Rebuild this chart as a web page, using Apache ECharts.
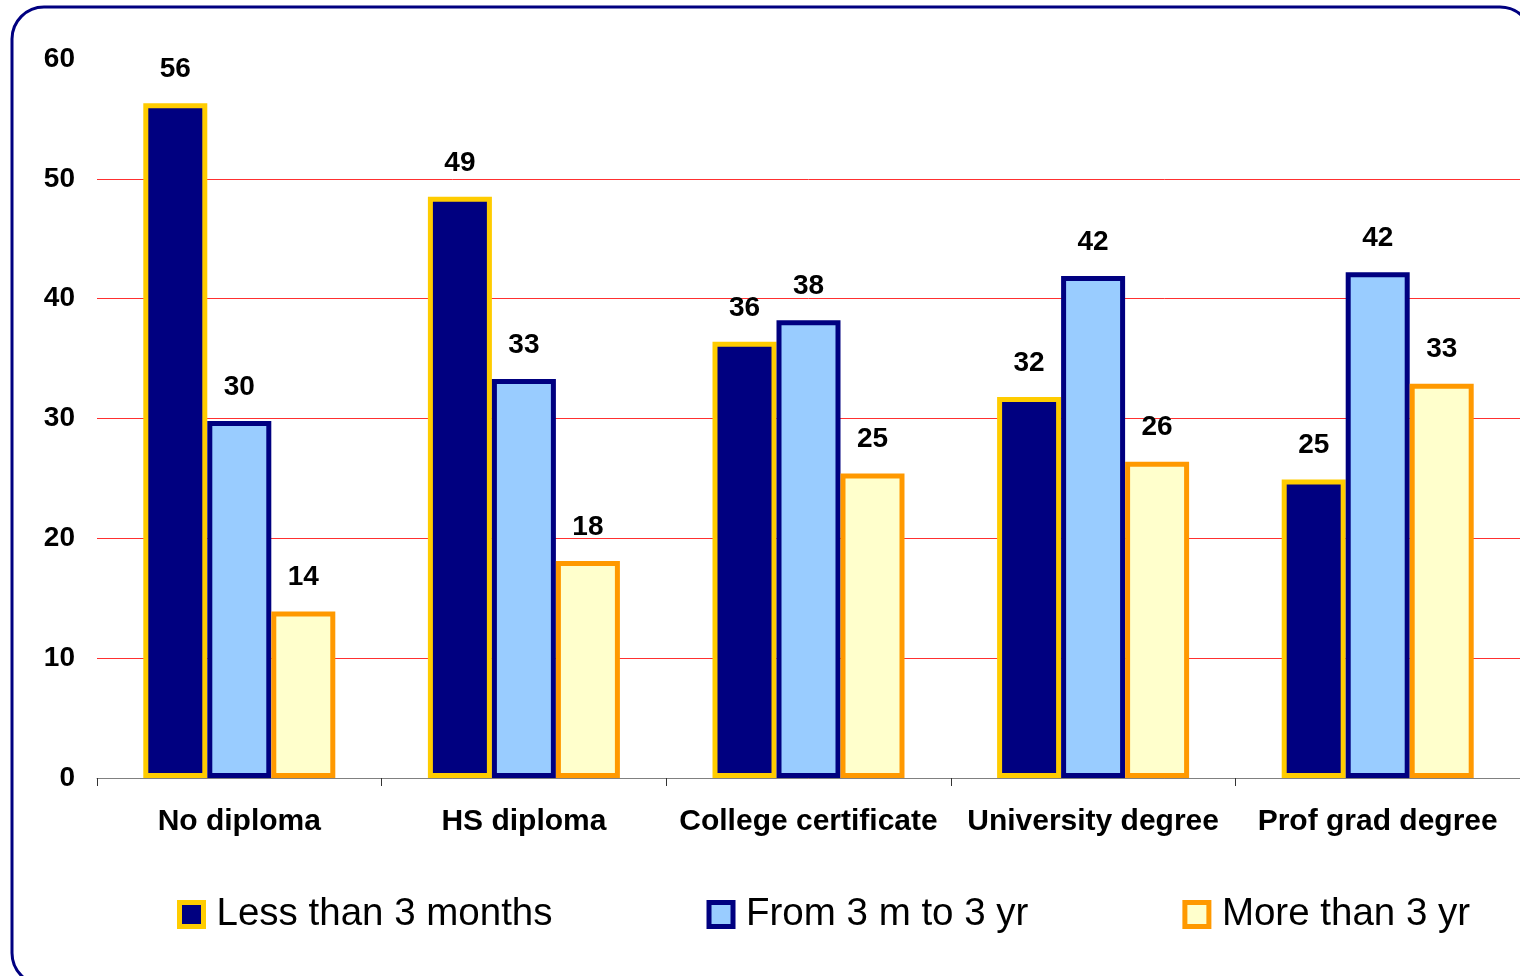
<!DOCTYPE html>
<html>
<head>
<meta charset="utf-8">
<script src="https://cdn.jsdelivr.net/npm/echarts@6/dist/echarts.min.js"></script>
<style>
html, body { margin: 0; padding: 0; background: #fff; }
#main { width: 1520px; height: 976px; }
</style>
</head>
<body>
<div id="main"></div>
<script>
var categories = ['No diploma', 'HS diploma', 'College certificate', 'University degree', 'Prof grad degree'];
var seriesNames = ['Less than 3 months', 'From 3 m to 3 yr', 'More than 3 yr'];
var lessThan3m = [56.3, 48.5, 36.4, 31.8, 24.9];
var from3mTo3y = [29.8, 33.3, 38.2, 41.9, 42.2];
var moreThan3y = [13.9, 18.1, 25.4, 26.4, 32.9];
var yTicks = [0, 10, 20, 30, 40, 50, 60];

var font = 'Arial, "Liberation Sans", sans-serif';
var styles = [
    { color: '#000080', borderColor: '#FFCC00', borderWidth: 5 },
    { color: '#99CCFF', borderColor: '#000080', borderWidth: 5 },
    { color: '#FFFFCC', borderColor: '#FF9900', borderWidth: 5 }
];
var values = [lessThan3m, from3mTo3y, moreThan3y];

var myChart = echarts.init(document.getElementById('main'));

var series = [];
for (var i = 0; i < 3; i++) {
    series.push({
        name: seriesNames[i],
        type: 'bar',
        data: values[i],
        barWidth: 64,
        barGap: '0%',
        itemStyle: styles[i],
        label: {
            show: true,
            position: 'top',
            distance: 20,
            color: '#000',
            fontFamily: font,
            fontWeight: 'bold',
            fontSize: 28,
            formatter: function (p) { return Math.round(p.value); }
        }
    });
}

var option = {
    animation: false,
    graphic: [{
        type: 'rect',
        shape: { x: 12, y: 7, width: 1520, height: 978, r: 32 },
        style: { fill: 'none', stroke: '#000080', lineWidth: 3 },
        z: -1
    }],
    grid: { left: 97, right: 0, top: 59, bottom: 198 },
    legend: {
        left: 172,
        top: 890,
        itemWidth: 24,
        itemHeight: 24,
        itemGap: 154,
        icon: 'rect',
        textStyle: { fontFamily: font, fontSize: 38.5, color: '#000', padding: [0, 0, 0, 8] },
        data: seriesNames.map(function (n, i) {
            return { name: n, itemStyle: styles[i] };
        })
    },
    xAxis: {
        type: 'category',
        data: categories,
        axisLine: { lineStyle: { color: '#808080', width: 1 } },
        axisTick: { show: true, length: 8, lineStyle: { color: '#333' } },
        axisLabel: {
            interval: 0,
            margin: 29,
            color: '#000',
            fontFamily: font,
            fontWeight: 'bold',
            fontSize: 30
        }
    },
    yAxis: {
        type: 'value',
        min: yTicks[0],
        max: yTicks[yTicks.length - 1],
        interval: 10,
        axisLine: { show: false },
        axisTick: { show: false },
        axisLabel: {
            margin: 22,
            color: '#000',
            fontFamily: font,
            fontWeight: 'bold',
            fontSize: 28
        },
        splitLine: {
            showMaxLine: false,
            lineStyle: { color: '#ff3030', width: 1 }
        }
    },
    series: series
};
myChart.setOption(option);
</script>
</body>
</html>
